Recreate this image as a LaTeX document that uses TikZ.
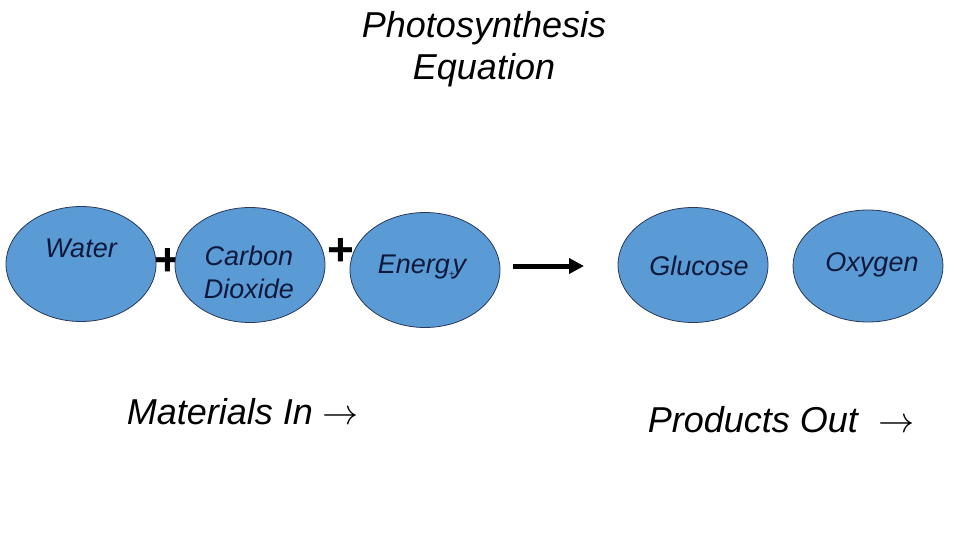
\documentclass[tikz,border=0pt]{standalone}
\usepackage{fontspec}
\setmainfont{Liberation Sans}
\usepackage{graphicx}
\usepackage{tikz}
\usetikzlibrary{shapes.geometric, arrows.meta, positioning}
\definecolor{leafblue}{RGB}{91, 155, 213}
\definecolor{rimnavy}{RGB}{40, 55, 90}
\definecolor{labelnavy}{RGB}{15, 25, 60}

\newcommand{\longarr}{\scalebox{1.45}{$\rightarrow$}}

\tikzset{
  molecule/.style={ellipse, draw=rimnavy, line width=0.8pt, fill=leafblue,
                   minimum width=150pt, minimum height=115pt, inner sep=0pt},
  tag/.style={font=\itshape\fontsize{27}{33}\selectfont, text=labelnavy, align=center},
  plussign/.style={font=\bfseries\fontsize{46}{46}\selectfont, inner sep=0pt},
  bigtext/.style={font=\itshape\fontsize{36}{42}\selectfont, align=center}
}

\begin{document}
\begin{tikzpicture}[x=1pt, y=-1pt]

% Frame
\useasboundingbox (0,0) rectangle (960,540);

% Title
\node[bigtext] (title) at (484,49) {Photosynthesis\\Equation};

% Reactants
\node[molecule] (water) at (81,264) {};
\node[tag] (waterlbl) at (81,248) {Water};
\node[plussign] (plusA) at (168,262) {+};
\node[molecule] (carbon) at (250,265) {};
\node[tag] (carbonlbl) at (249,272) {Carbon\\Dioxide};
\node[plussign] (plusB) at (341,252) {+};
\node[molecule] (energy) at (425,270) {};
\node[tag] (energylbl) at (422,267)
    {Energ\kern-1pt\raisebox{-0.3ex}{\fontsize{10}{10}\selectfont +}\kern-2pt y};

% Reaction arrow
\coordinate (arrS) at (513,266);
\coordinate (arrE) at (584,266);
\draw[line width=5pt, -{Triangle[length=15pt, width=15pt]}] (arrS) -- (arrE);

% Products
\node[molecule] (glucose) at (693,265) {};
\node[tag] (glucoselbl) at (699,266) {Glucose};
\node[molecule, minimum height=112pt] (oxygen) at (868,266) {};
\node[tag] (oxygenlbl) at (872,265) {Oxygen};

% Bottom captions
\node[bigtext] (matin) at (243,412) {Materials In \longarr};
\node[bigtext] (prodout) at (781,420) {Products Out\ \ \longarr};

\end{tikzpicture}
\end{document}
